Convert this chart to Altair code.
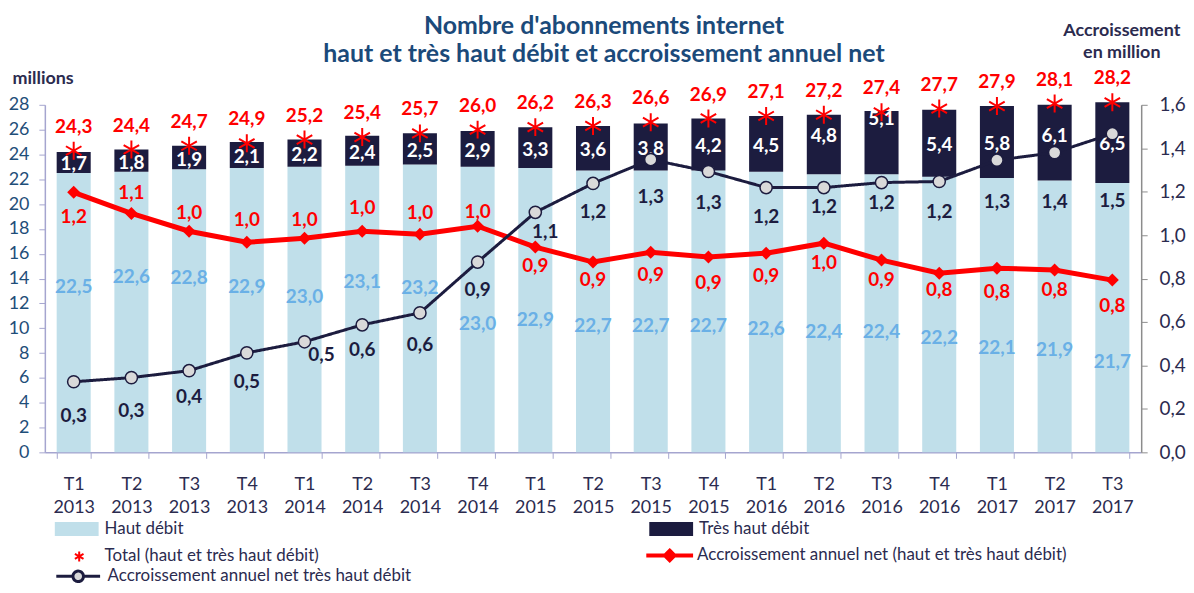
import math
import altair as alt
import pandas as pd

# ---------------- data ----------------
quarters = ["T1 2013", "T2 2013", "T3 2013", "T4 2013", "T1 2014", "T2 2014", "T3 2014",
            "T4 2014", "T1 2015", "T2 2015", "T3 2015", "T4 2015", "T1 2016", "T2 2016",
            "T3 2016", "T4 2016", "T1 2017", "T2 2017", "T3 2017"]
haut_debit = [22.5, 22.6, 22.8, 22.9, 23.0, 23.1, 23.2, 23.0, 22.9, 22.7, 22.7, 22.7, 22.6,
              22.4, 22.4, 22.2, 22.1, 21.9, 21.7]
tres_haut_debit = [1.7, 1.8, 1.9, 2.1, 2.2, 2.4, 2.5, 2.9, 3.3, 3.6, 3.8, 4.2, 4.5, 4.8, 5.1,
                   5.4, 5.8, 6.1, 6.5]
total = [24.3, 24.4, 24.7, 24.9, 25.2, 25.4, 25.7, 26.0, 26.2, 26.3, 26.6, 26.9, 27.1, 27.2,
         27.4, 27.7, 27.9, 28.1, 28.2]
accr_total = [1.197, 1.100, 1.018, 0.967, 0.986, 1.018, 1.004, 1.041, 0.945, 0.876, 0.921,
              0.899, 0.917, 0.963, 0.885, 0.825, 0.848, 0.839, 0.793]
accr_thd = [0.325, 0.344, 0.376, 0.458, 0.509, 0.587, 0.642, 0.876, 1.105, 1.238, 1.348,
            1.293, 1.219, 1.219, 1.242, 1.247, 1.345, 1.380, 1.467]

series_hd = "Haut débit"
series_thd = "Très haut débit"
series_total = "Total (haut et très haut débit)"
series_acc_tot = "Accroissement annuel net (haut et très haut débit)"
series_acc_thd = "Accroissement annuel net très haut débit"

# ---------------- label placement (style: pixel offsets of data labels) ----------------
HD_LABEL_DY = [-26, -35, -33, -23, -13, -27, -20, 14, 10, 15, 15, 15, 17, 19, 19, 24, 33, 34, 45]
THD_LABEL_DY = [2, 2, 2, 2, 2, 2, 2, 2, 2, 2, 2, 2, 2, -9, -24, 2, 2, -7, 1]
RED_LABEL_DY = [25, -20, -18, -22, -18, -23, -21, -14, 19, 18, 23, 26, 23, 20, 20, 17, 24, 20, 26]
BLK_LABEL_DY = [34, 34, 26, 29, 13, 25, 32, 28, 20, 29, 38, 32, 30, 20, 21, 31, 42, 50, 68]
BLK_LABEL_DX = [0, 0, 0, 0, 17, 0, 0, 0, 10, 0, 0, 0, 0, 0, 0, 0, 0, 0, 0]
ZERO_DX = [0] * len(quarters)

FONT = "Lato"
C_HD = "#C0DFEA"
C_THD = "#1C1C3F"
C_HD_TXT = "#6AB0E6"
C_RED = "#FF0000"
C_NAVY = "#1C1C3F"
C_PT = "#D9D9D9"
C_TXT = "#2B2B4F"
C_LEFT_TXT = "#1F4E79"
C_AX = "#A5A5CF"
C_RAX = "#8C8C8C"
C_TITLE = "#1B4A7A"

STAR = "M0,-1L0,1M-0.866,-0.5L0.866,0.5M-0.866,0.5L0.866,-0.5"
RECT = "M-1,-0.32H1V0.32H-1Z"
LINE_DIAMOND = "M-1,0H1M0,-0.2L0.2,0L0,0.2L-0.2,0Z"
LINE_CIRCLE = "M-1,0H-0.24M0.24,0H1M-0.24,0A0.24,0.24 0 1,1 0.24,0A0.24,0.24 0 1,1 -0.24,0Z"


def polar(dxs, dys):
    r = [math.hypot(dx, dy) for dx, dy in zip(dxs, dys)]
    t = [math.atan2(dx, -dy) for dx, dy in zip(dxs, dys)]
    return r, t


df = pd.DataFrame({"q": quarters, "hd": haut_debit, "thd": tres_haut_debit, "total": total,
                   "acc_tot": accr_total, "acc_thd": accr_thd})
for key, dxs, dys in [("hd", ZERO_DX, HD_LABEL_DY), ("thd", ZERO_DX, THD_LABEL_DY),
                      ("red", ZERO_DX, RED_LABEL_DY), ("blk", BLK_LABEL_DX, BLK_LABEL_DY)]:
    r, t = polar(dxs, dys)
    df[key + "_r"] = r
    df[key + "_t"] = t

n = len(quarters)
bars_df = pd.DataFrame({"q": quarters * 2,
                        "type": [series_hd] * n + [series_thd] * n,
                        "val": haut_debit + tres_haut_debit,
                        "ord": [0] * n + [1] * n})

# ---------------- scales & axes ----------------
x_scale = alt.Scale(type="band", paddingInner=0.41, paddingOuter=0.205)
x_axis = alt.Axis(title=None, labelExpr="split(datum.label, ' ')", tickBand="extent",
                  labelAngle=0, labelFont=FONT, labelFontSize=18, labelColor=C_TXT,
                  labelLineHeight=23, labelBaseline="top", labelPadding=17,
                  domainColor=C_AX, tickColor=C_AX, tickSize=6, domainWidth=1.5)
x_enc = alt.X("q:N", sort=quarters, scale=x_scale, axis=x_axis)

yl_scale = alt.Scale(domain=[0, 28], nice=False, zero=True)
yl_axis = alt.Axis(values=list(range(0, 29, 2)), title="millions", titleAngle=0,
                   titleAlign="left", titleBaseline="middle", titleX=-33, titleY=-26,
                   titleFont=FONT, titleFontSize=18, titleFontWeight="bold", titleColor=C_TXT,
                   labelFont=FONT, labelFontSize=18, labelColor=C_LEFT_TXT, labelPadding=10,
                   tickSize=6, tickColor=C_AX, domainColor=C_AX, domainWidth=1.5, grid=False)

yr_scale = alt.Scale(domain=[0, 1.6], nice=False, zero=True)
yr_axis = alt.Axis(orient="right", values=[round(i * 0.2, 1) for i in range(9)],
                   labelExpr="replace(format(datum.value, '.1f'), '.', ',')",
                   title=["Accroissement", "en million"], titleAngle=0, titleAlign="center",
                   titleBaseline="top", titleX=-20, titleY=-84, titleLineHeight=22,
                   titleFont=FONT, titleFontSize=18, titleFontWeight="bold", titleColor=C_TXT,
                   labelFont=FONT, labelFontSize=19, labelColor=C_TXT, labelPadding=12,
                   tickSize=6, tickColor=C_RAX, domainColor=C_RAX, domainWidth=1.5, grid=False)


def yl(field):
    return alt.Y(field, scale=yl_scale, axis=yl_axis)


def yr(field):
    return alt.Y(field, scale=yr_scale, axis=yr_axis)


def fmt(field):
    return f"replace(format(datum.{field}, '.1f'), '.', ',')"


LEG = dict(title=None, orient="none", labelFont=FONT, labelFontSize=17, labelColor=C_TXT,
           padding=0, labelLimit=700)

base = alt.Chart(df)

# ---------------- left group (millions) ----------------
bars = alt.Chart(bars_df).mark_bar().encode(
    x=x_enc,
    y=alt.Y("val:Q", stack="zero", scale=yl_scale, axis=yl_axis),
    color=alt.Color("type:N", scale=alt.Scale(domain=[series_hd, series_thd], range=[C_HD, C_THD]),
                    legend=alt.Legend(legendX=10, legendY=404,
                                      direction="horizontal", columns=2, columnPadding=467,
                                      symbolType=RECT, symbolSize=1936, symbolStrokeWidth=0,
                                      labelOffset=6, **LEG)),
    order=alt.Order("ord:Q"),
)

stars = base.transform_calculate(lab=f"'{series_total}'").mark_point(
    filled=False, stroke=C_RED, strokeWidth=2, size=324, opacity=1
).encode(
    x=x_enc, y=yl("total:Q"),
    shape=alt.Shape("lab:N", scale=alt.Scale(range=[STAR]),
                    legend=alt.Legend(legendX=26, legendY=445,
                                      symbolSize=100, symbolStrokeColor=C_RED,
                                      symbolFillColor="transparent", symbolStrokeWidth=2,
                                      labelOffset=17, **LEG)),
)

hd_text = base.transform_calculate(mid="datum.hd / 2", lbl=fmt("hd")).mark_text(
    font=FONT, fontSize=19, fontWeight="bold", color=C_HD_TXT, baseline="middle"
).encode(x=x_enc, y=yl("mid:Q"), text="lbl:N",
         radius=alt.Radius("hd_r:Q", scale=None), theta=alt.Theta("hd_t:Q", scale=None, stack=None))

thd_text = base.transform_calculate(mid="datum.hd + datum.thd / 2", lbl=fmt("thd")).mark_text(
    font=FONT, fontSize=19, fontWeight="bold", color="white", baseline="middle"
).encode(x=x_enc, y=yl("mid:Q"), text="lbl:N",
         radius=alt.Radius("thd_r:Q", scale=None), theta=alt.Theta("thd_t:Q", scale=None, stack=None))

total_text = base.transform_calculate(lbl=fmt("total")).mark_text(
    font=FONT, fontSize=19, fontWeight="bold", color=C_RED, baseline="middle", dy=-24
).encode(x=x_enc, y=yl("total:Q"), text="lbl:N")

left = alt.layer(bars, stars, hd_text, thd_text, total_text)

# ---------------- right group (accroissement) ----------------
red_line = base.transform_calculate(lab=f"'{series_acc_tot}'").mark_line(strokeWidth=5).encode(
    x=x_enc, y=yr("acc_tot:Q"),
    stroke=alt.Stroke("lab:N", scale=alt.Scale(range=[C_RED]),
                      legend=alt.Legend(legendX=602, legendY=427,
                                        symbolType=LINE_DIAMOND, symbolSize=2209,
                                        symbolStrokeWidth=4, symbolFillColor=C_RED,
                                        labelOffset=2, **LEG)),
)
red_pts = base.mark_point(shape="diamond", filled=True, color=C_RED, size=170, opacity=1).encode(
    x=x_enc, y=yr("acc_tot:Q"))

blk_line = base.transform_calculate(lab=f"'{series_acc_thd}'").mark_line(
    strokeWidth=3, stroke=C_NAVY).encode(
    x=x_enc, y=yr("acc_thd:Q"),
    strokeDash=alt.StrokeDash("lab:N", scale=alt.Scale(range=[[1, 0]]),
                              legend=alt.Legend(legendX=10, legendY=450,
                                                symbolType=LINE_CIRCLE, symbolSize=1936,
                                                symbolStrokeWidth=3, symbolStrokeColor=C_NAVY,
                                                symbolFillColor=C_PT, labelOffset=6, **LEG)),
)
blk_pts = base.mark_point(shape="circle", filled=True, fill=C_PT, stroke=C_NAVY, strokeWidth=1.5,
                          size=150, opacity=1).encode(x=x_enc, y=yr("acc_thd:Q"))

red_text = base.transform_calculate(lbl=fmt("acc_tot")).mark_text(
    font=FONT, fontSize=19, fontWeight="bold", color=C_RED, baseline="middle"
).encode(x=x_enc, y=yr("acc_tot:Q"), text="lbl:N",
         radius=alt.Radius("red_r:Q", scale=None), theta=alt.Theta("red_t:Q", scale=None, stack=None))

blk_text = base.transform_calculate(lbl=fmt("acc_thd")).mark_text(
    font=FONT, fontSize=19, fontWeight="bold", color=C_NAVY, baseline="middle"
).encode(x=x_enc, y=yr("acc_thd:Q"), text="lbl:N",
         radius=alt.Radius("blk_r:Q", scale=None), theta=alt.Theta("blk_t:Q", scale=None, stack=None))

right = alt.layer(red_line, red_pts, blk_line, blk_pts, red_text, blk_text)

chart = alt.layer(left, right).resolve_scale(y="independent").properties(
    width=1101, height=349,
    padding={"left": 37, "top": 96, "right": 45, "bottom": 132},
    autosize=alt.AutoSizeParams(type="none"),
    background="white",
    title=alt.Title(["Nombre d'abonnements internet",
                     "haut et très haut débit et accroissement annuel net"],
                    font=FONT, fontSize=25, fontWeight="bold", color=C_TITLE,
                    anchor="middle", lineHeight=28, dx=11, dy=50),
).configure_view(stroke=None)

chart.save("out.html", embed_options={"renderer": "svg", "actions": False})
